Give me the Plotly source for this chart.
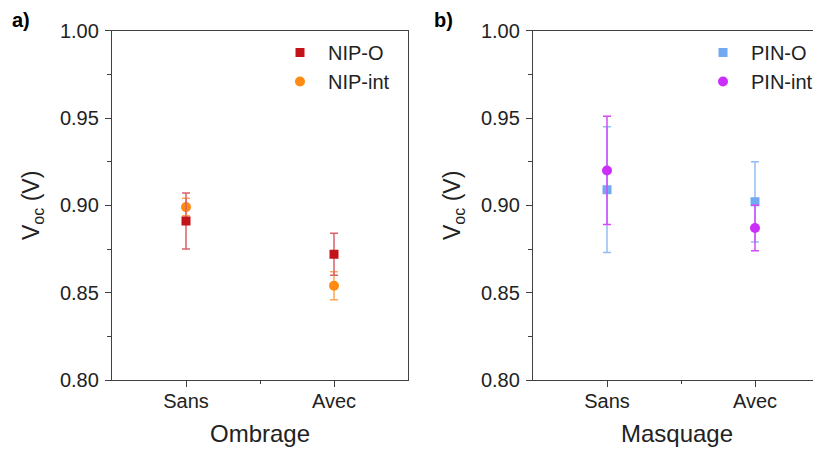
import plotly.graph_objects as go

categories = ["Sans", "Avec"]
cat_pos = [1, 2]

nip_o = [0.891, 0.872]
nip_o_err = [0.016, 0.012]
nip_int = [0.899, 0.854]
nip_int_err = [0.005, 0.008]

pin_o = [0.909, 0.902]
pin_o_err = [0.036, 0.023]
pin_int = [0.920, 0.887]
pin_int_err = [0.031, 0.013]

y_ticks = [0.80, 0.85, 0.90, 0.95, 1.00]
y_ticktext = ["0.80", "0.85", "0.90", "0.95", "1.00"]

FONT = "Liberation Sans, Arial, sans-serif"
AX = "#404040"

# page body has an 8px margin: figure is drawn 8px in from the window edges
W, H, OFF = 813, 448, 8

def px(x):
    return (x - OFF) / W

def py(y):
    return 1 - (y - OFF) / H

fig = go.Figure()

def add(x, y, err, name, color, ecolor, symbol, size, xa, ya, legend):
    fig.add_trace(go.Scatter(
        x=x, y=y, mode="markers", name=name,
        marker=dict(color=color, symbol=symbol, size=size, line=dict(width=0)),
        error_y=dict(type="data", array=err, visible=True, color=ecolor, thickness=1.5, width=4),
        xaxis=xa, yaxis=ya, legend=legend,
    ))

add(cat_pos, nip_int, nip_int_err, "NIP-int", "#FF8A14", "#FFA850", "circle", 10, "x", "y", "legend")
add(cat_pos, nip_o, nip_o_err, "NIP-O", "#C4121B", "#D9626A", "square", 9, "x", "y", "legend")
add(cat_pos, pin_o, pin_o_err, "PIN-O", "#72A9F0", "#92BEF6", "square", 9, "x2", "y2", "legend2")
add(cat_pos, pin_int, pin_int_err, "PIN-int", "#CC2EFA", "#D648F8", "circle", 10, "x2", "y2", "legend2")

ydom = [py(380), py(30.7)]

xcommon = dict(
    tickmode="array", tickvals=cat_pos, ticktext=categories,
    showline=True, linecolor=AX, linewidth=1.3, mirror=True,
    ticks="outside", ticklen=6, tickwidth=1, tickcolor=AX,
    minor=dict(tickvals=[1.5], ticks="outside", ticklen=3, tickcolor=AX, tickwidth=1),
    showgrid=False, zeroline=False, automargin=False,
    tickfont=dict(family=FONT, size=20, color="#222"),
    title_font=dict(family=FONT, size=24, color="#222"),
    title_standoff=14, ticklabelstandoff=-3,
)
ycommon = dict(
    range=[0.80, 1.00], tickmode="array", tickvals=y_ticks, ticktext=y_ticktext,
    showline=True, linecolor=AX, linewidth=1.3,
    ticks="outside", ticklen=6, tickwidth=1, tickcolor=AX,
    minor=dict(tickvals=[0.825, 0.875, 0.925, 0.975], ticks="outside", ticklen=4, tickcolor=AX, tickwidth=1),
    showgrid=False, zeroline=False, domain=ydom, automargin=False,
    tickfont=dict(family=FONT, size=20, color="#222"),
    title_font=dict(family=FONT, size=23, color="#222"),
    title_text="V<sub>oc</sub> (V)", title_standoff=13, ticklabelstandoff=2,
)

fig.update_layout(
    width=W, height=H,
    margin=dict(l=0, r=0, t=0, b=0, autoexpand=False),
    paper_bgcolor="white", plot_bgcolor="white",
    xaxis=dict(xcommon, domain=[px(112), px(408)], range=[0.5, 2.5], title_text="Ombrage"),
    xaxis2=dict(xcommon, domain=[px(533), 1.0], range=[0.5, 0.5 + (821 - 533) / 148], title_text="Masquage", anchor="y2"),
    yaxis=dict(ycommon, anchor="x", mirror=True),
    yaxis2=dict(ycommon, anchor="x2", mirror=False),
    legend=dict(x=px(272), y=py(33), xanchor="left", yanchor="top", traceorder="reversed",
                font=dict(family=FONT, size=20, color="#222"), bgcolor="rgba(0,0,0,0)",
                itemwidth=46, tracegroupgap=0),
    legend2=dict(x=px(695), y=py(33), xanchor="left", yanchor="top",
                 font=dict(family=FONT, size=20, color="#222"), bgcolor="rgba(0,0,0,0)",
                 itemwidth=46, tracegroupgap=0),
    annotations=[
        dict(text="<b>a)</b>", x=px(10), y=py(7), xref="paper", yref="paper",
             xanchor="left", yanchor="top", showarrow=False,
             font=dict(family=FONT, size=20, color="black")),
        dict(text="<b>b)</b>", x=px(432), y=py(7), xref="paper", yref="paper",
             xanchor="left", yanchor="top", showarrow=False,
             font=dict(family=FONT, size=20, color="black")),
    ],
)

fig.write_html("out.html")
